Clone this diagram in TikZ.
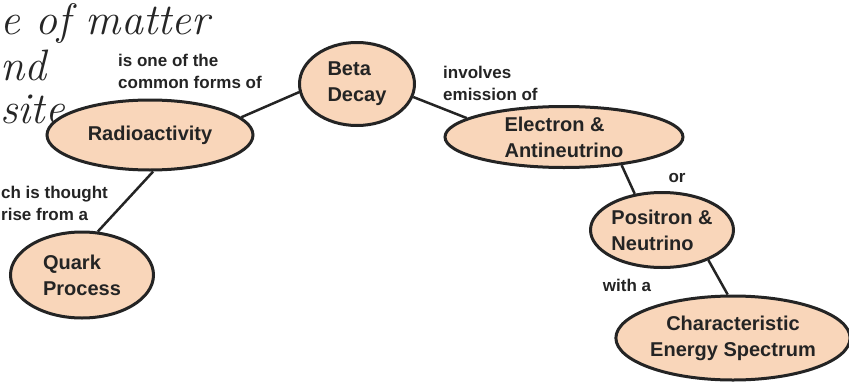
\documentclass[tikz,border=0pt]{standalone}
\usepackage{fontspec}
\setsansfont{Liberation Sans}
\usepackage{tikz}
\usetikzlibrary{shapes.geometric}
\usepackage{xcolor}
\definecolor{peach}{RGB}{249,214,186}
\definecolor{inkgray}{RGB}{36,36,36}
\tikzset{
    % concept bubbles of the map
    concept/.style={ellipse, draw=inkgray, line width=3pt, fill=peach, inner sep=0pt,
        font=\sffamily\bfseries\fontsize{20}{26}\selectfont, text=inkgray, align=left},
    % words written along the links
    linklabel/.style={font=\sffamily\bfseries\fontsize{17}{22}\selectfont, text=inkgray,
        align=left, inner sep=0pt},
    link/.style={line width=2.5pt, draw=inkgray},
    % pencil notes at the top left
    scrawl/.style={font=\rmfamily\itshape\fontsize{44}{50}\selectfont, text=black!85, inner sep=0pt}
}

\begin{document}
\begin{tikzpicture}[x=1pt, y=-1pt]
    \useasboundingbox (0,0) rectangle (849,391);

    % =========================================================================
    % HANDWRITTEN NOTES (top left corner)
    % =========================================================================
    \node[scrawl, anchor=base west] (note1) at (0,34) {e of matter};
    \node[scrawl, anchor=base west] (note2) at (0,80) {nd};
    \node[scrawl, anchor=base west] (note3) at (0,123) {site};

    % =========================================================================
    % CONCEPTS
    % =========================================================================
    \node[concept, minimum width=206pt, minimum height=70pt] (radio) at (150,135) {Radioactivity};
    \node[concept, minimum width=115pt, minimum height=83pt] (beta) at (357,84) {Beta\\Decay};
    \node[concept, minimum width=238pt, minimum height=61pt] (electron) at (564,137) {Electron \&\\Antineutrino};
    \node[concept, minimum width=139pt, minimum height=75pt] (positron) at (662,230) {Positron \&\\Neutrino};
    \node[concept, minimum width=212pt, minimum height=84pt, align=center] (spectrum) at (733,338) {Characteristic\\Energy Spectrum};
    \node[concept, minimum width=143pt, minimum height=86pt] (quark) at (82,275) {Quark\\Process};

    % =========================================================================
    % LINKS
    % =========================================================================
    \draw[link] (radio.11) -- (beta.188);
    \draw[link] (radio.275) -- (quark.70);
    \draw[link] (beta.347) -- (electron.169);
    \draw[link] (electron.334) -- (positron.127);
    \draw[link] (positron.327) -- (spectrum.97);

    % Link phrases
    \node[linklabel, anchor=north west] (lbl1) at (118,54) {is one of the\\common forms of};
    \node[linklabel, anchor=north west] (lbl2) at (443,66) {involves\\emission of};
    \node[linklabel] (lbl3) at (677,178) {or};
    \node[linklabel] (lbl4) at (627,285) {with a};
    \node[linklabel, anchor=north west] (lbl5) at (1,186) {ch is thought\\rise from a};
\end{tikzpicture}
\end{document}
